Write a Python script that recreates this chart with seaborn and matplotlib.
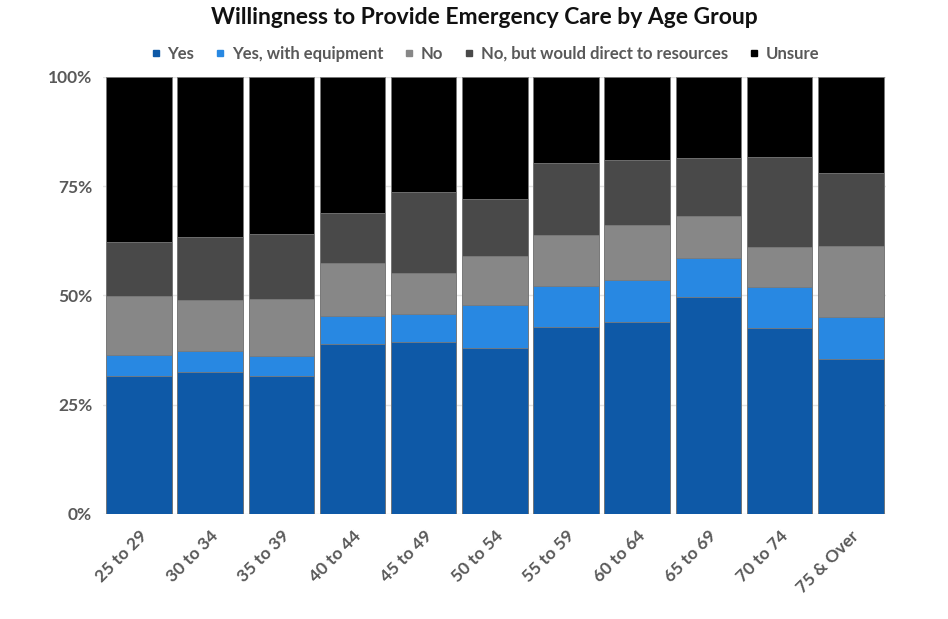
import numpy as np
import pandas as pd
import matplotlib.pyplot as plt
import seaborn as sns

# -----------------------------------
# DATA (percent of respondents)
# -----------------------------------
ages = ["25 to 29", "30 to 34", "35 to 39", "40 to 44", "45 to 49", "50 to 54",
        "55 to 59", "60 to 64", "65 to 69", "70 to 74", "75 & Over"]

yes = [31.6, 32.4, 31.6, 38.9, 39.4, 38.0, 42.8, 43.9, 49.6, 42.6, 35.5]
yes_equipment = [4.8, 4.9, 4.6, 6.4, 6.3, 9.8, 9.4, 9.6, 9.0, 9.4, 9.6]
no = [13.5, 11.7, 13.0, 12.1, 9.4, 11.2, 11.6, 12.6, 9.6, 9.1, 16.2]
no_direct = [12.3, 14.4, 14.9, 11.5, 18.5, 13.1, 16.5, 14.9, 13.3, 20.6, 16.7]
unsure = [37.8, 36.6, 35.9, 31.1, 26.4, 27.9, 19.7, 19.0, 18.5, 18.3, 22.0]

series = ["Yes", "Yes, with equipment", "No", "No, but would direct to resources", "Unsure"]
colors = ["#0E59A7", "#2888E2", "#878787", "#494949", "#000000"]

df = pd.DataFrame({
    "age": ages,
    "Yes": yes,
    "Yes, with equipment": yes_equipment,
    "No": no,
    "No, but would direct to resources": no_direct,
    "Unsure": unsure,
})

# normalise to 100%
vals = df[series]
df[series] = vals.div(vals.sum(axis=1), axis=0) * 100
cum = df[series].cumsum(axis=1)

# -----------------------------------
# PLOT
# -----------------------------------
sns.set_style("white")
plt.rcParams["font.family"] = ["Lato", "DejaVu Sans"]

fig = plt.figure(figsize=(9.48, 6.19), dpi=100)
ax = fig.add_axes([0.109, 0.170, 0.826, 0.706])

for s, c in zip(reversed(series), reversed(colors)):
    sns.barplot(x=df["age"], y=cum[s], color=c, width=0.92, ax=ax,
                edgecolor="#7a7a7a", linewidth=0.6, saturation=1, zorder=3)

ax.set_ylim(0, 100)
ax.set_yticks([0, 25, 50, 75, 100])
ax.set_yticklabels(["0%", "25%", "50%", "75%", "100%"])
ax.yaxis.grid(True, color="#e3e3e3", linewidth=1, zorder=0)
ax.set_axisbelow(True)
ax.set_xlabel("")
ax.set_ylabel("")
for sp in ax.spines.values():
    sp.set_visible(False)
ax.tick_params(axis="both", length=0, labelsize=12.5, labelcolor="#595959")
for lbl in ax.get_yticklabels() + ax.get_xticklabels():
    lbl.set_fontweight("bold")
plt.setp(ax.get_xticklabels(), rotation=45, ha="right", rotation_mode="anchor")
ax.tick_params(axis="x", pad=10)
ax.tick_params(axis="y", pad=8)

fig.suptitle("Willingness to Provide Emergency Care by Age Group",
             x=0.511, y=0.988, fontsize=16.5, fontweight="bold", color="#111111")

handles = [plt.Line2D([], [], marker="s", linestyle="", color=c, markersize=3.8)
           for c in colors]
fig.legend(handles, series, loc="center", bbox_to_anchor=(0.512, 0.913), ncol=5,
           frameon=False, handlelength=0.5, handletextpad=0.45, columnspacing=1.3,
           labelcolor="#595959", prop={"weight": "bold", "size": 12})

fig.savefig("out.png", dpi=100)
